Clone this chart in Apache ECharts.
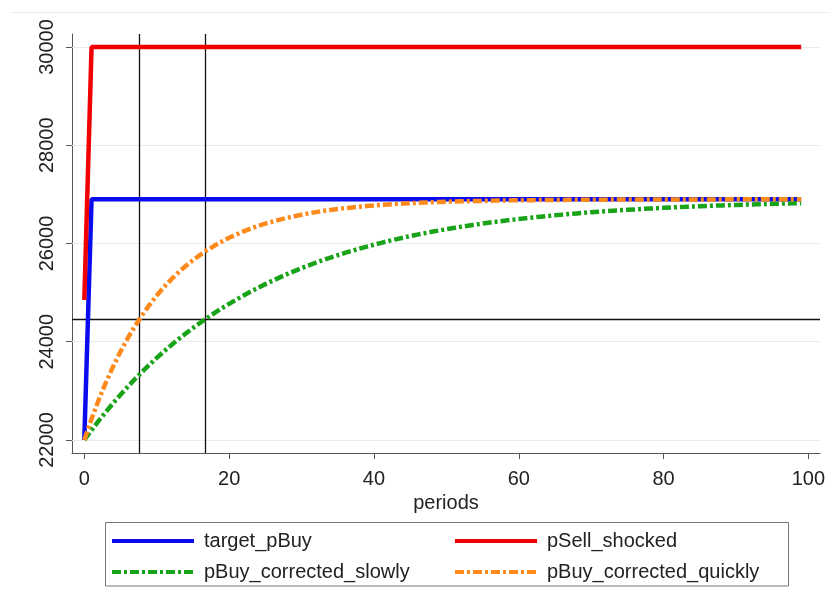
<!DOCTYPE html>
<html>
<head>
<meta charset="utf-8">
<script src="https://cdn.jsdelivr.net/npm/echarts@6/dist/echarts.min.js"></script>
<style>
  html, body { margin: 0; padding: 0; background: #fff; }
  #chart { width: 830px; height: 592px; }
</style>
</head>
<body>
<div id="chart"></div>
<script>
// time axis
const periods = [
  0, 1, 2, 3, 4, 5, 6, 7, 8, 9,
  10, 11, 12, 13, 14, 15, 16, 17, 18, 19,
  20, 21, 22, 23, 24, 25, 26, 27, 28, 29,
  30, 31, 32, 33, 34, 35, 36, 37, 38, 39,
  40, 41, 42, 43, 44, 45, 46, 47, 48, 49,
  50, 51, 52, 53, 54, 55, 56, 57, 58, 59,
  60, 61, 62, 63, 64, 65, 66, 67, 68, 69,
  70, 71, 72, 73, 74, 75, 76, 77, 78, 79,
  80, 81, 82, 83, 84, 85, 86, 87, 88, 89,
  90, 91, 92, 93, 94, 95, 96, 97, 98, 99
];

const targetPBuy = [
  22000, 26900, 26900, 26900, 26900, 26900, 26900, 26900, 26900, 26900,
  26900, 26900, 26900, 26900, 26900, 26900, 26900, 26900, 26900, 26900,
  26900, 26900, 26900, 26900, 26900, 26900, 26900, 26900, 26900, 26900,
  26900, 26900, 26900, 26900, 26900, 26900, 26900, 26900, 26900, 26900,
  26900, 26900, 26900, 26900, 26900, 26900, 26900, 26900, 26900, 26900,
  26900, 26900, 26900, 26900, 26900, 26900, 26900, 26900, 26900, 26900,
  26900, 26900, 26900, 26900, 26900, 26900, 26900, 26900, 26900, 26900,
  26900, 26900, 26900, 26900, 26900, 26900, 26900, 26900, 26900, 26900,
  26900, 26900, 26900, 26900, 26900, 26900, 26900, 26900, 26900, 26900,
  26900, 26900, 26900, 26900, 26900, 26900, 26900, 26900, 26900, 26900
];

const pSellShocked = [
  24850, 30000, 30000, 30000, 30000, 30000, 30000, 30000, 30000, 30000,
  30000, 30000, 30000, 30000, 30000, 30000, 30000, 30000, 30000, 30000,
  30000, 30000, 30000, 30000, 30000, 30000, 30000, 30000, 30000, 30000,
  30000, 30000, 30000, 30000, 30000, 30000, 30000, 30000, 30000, 30000,
  30000, 30000, 30000, 30000, 30000, 30000, 30000, 30000, 30000, 30000,
  30000, 30000, 30000, 30000, 30000, 30000, 30000, 30000, 30000, 30000,
  30000, 30000, 30000, 30000, 30000, 30000, 30000, 30000, 30000, 30000,
  30000, 30000, 30000, 30000, 30000, 30000, 30000, 30000, 30000, 30000,
  30000, 30000, 30000, 30000, 30000, 30000, 30000, 30000, 30000, 30000,
  30000, 30000, 30000, 30000, 30000, 30000, 30000, 30000, 30000, 30000
];

const pBuySlowly = [
  22000, 22200, 22392, 22576, 22753, 22922, 23085, 23241, 23390, 23534,
  23671, 23803, 23930, 24051, 24167, 24279, 24386, 24489, 24587, 24682,
  24772, 24859, 24943, 25023, 25099, 25173, 25243, 25311, 25376, 25438,
  25498, 25555, 25610, 25663, 25713, 25762, 25808, 25853, 25896, 25937,
  25976, 26014, 26050, 26085, 26118, 26150, 26181, 26210, 26238, 26265,
  26291, 26316, 26340, 26363, 26385, 26406, 26426, 26445, 26464, 26482,
  26499, 26515, 26531, 26546, 26561, 26574, 26588, 26601, 26613, 26624,
  26636, 26647, 26657, 26667, 26676, 26685, 26694, 26703, 26711, 26718,
  26726, 26733, 26740, 26746, 26753, 26759, 26764, 26770, 26775, 26780,
  26785, 26790, 26794, 26799, 26803, 26807, 26811, 26814, 26818, 26821
];

const pBuyQuickly = [
  22000, 22429, 22820, 23177, 23503, 23801, 24072, 24319, 24545, 24751,
  24940, 25111, 25268, 25411, 25541, 25660, 25769, 25868, 25958, 26040,
  26116, 26184, 26247, 26304, 26356, 26404, 26447, 26487, 26523, 26556,
  26586, 26614, 26639, 26662, 26683, 26702, 26719, 26735, 26749, 26763,
  26775, 26786, 26796, 26805, 26813, 26821, 26828, 26834, 26840, 26845,
  26850, 26854, 26858, 26862, 26865, 26868, 26871, 26874, 26876, 26878,
  26880, 26882, 26883, 26885, 26886, 26887, 26888, 26889, 26890, 26891,
  26892, 26893, 26893, 26894, 26894, 26895, 26895, 26896, 26896, 26896,
  26897, 26897, 26897, 26898, 26898, 26898, 26898, 26898, 26898, 26899,
  26899, 26899, 26899, 26899, 26899, 26899, 26899, 26899, 26899, 26900
];

// reference lines: half-way level and the two half-lives
const halfLevel = 24450;
const halfLives = [7.57, 16.64];

const xTicks = [0, 20, 40, 60, 80, 100];
const yTicks = [22000, 24000, 26000, 28000, 30000];

const font = '"Liberation Sans", Arial, sans-serif';
const textColor = '#222';
const axisColor = '#555';
const dashDot = [9, 3, 3, 3];

const pairs = (vals) => periods.map((p, i) => [p, vals[i]]);

// one legend per entry so the two columns line up like the Stata key
const legendEntry = (name, left, top) => ({
  data: [name],
  left: left,
  top: top,
  itemWidth: 82,
  itemHeight: 14,
  itemStyle: {opacity: 0, borderWidth: 0},
  lineStyle: {width: 4},
  textStyle: {fontFamily: font, fontSize: 20, color: textColor, padding: [0, 0, 0, 5]}
});

const chart = echarts.init(document.getElementById('chart'));

chart.setOption({
  animation: false,
  backgroundColor: '#fff',
  grid: {left: 72, right: 10, top: 34, bottom: 139},
  xAxis: {
    type: 'value',
    min: -1.7,
    max: 101.6,
    name: 'periods',
    nameLocation: 'middle',
    nameGap: 35,
    nameTextStyle: {fontFamily: font, fontSize: 20, color: textColor},
    axisLine: {onZero: false, lineStyle: {color: axisColor, width: 1}},
    axisTick: {customValues: xTicks, length: 6, lineStyle: {color: axisColor}},
    axisLabel: {customValues: xTicks, fontFamily: font, fontSize: 20, color: textColor, margin: 16},
    splitLine: {show: false}
  },
  yAxis: {
    type: 'value',
    min: 21735,
    max: 30265,
    axisLine: {show: true, onZero: false, lineStyle: {color: axisColor, width: 1}},
    axisTick: {show: true, customValues: yTicks, length: 6, lineStyle: {color: axisColor}},
    axisLabel: {
      customValues: yTicks, rotate: 90, fontFamily: font, fontSize: 20, color: textColor, margin: 15,
      formatter: (v) => String(v)
    },
    splitLine: {show: false}
  },
  legend: [
    legendEntry('target_pBuy', 105, 526),
    legendEntry('pSell_shocked', 448, 526),
    legendEntry('pBuy_corrected_slowly', 105, 557),
    legendEntry('pBuy_corrected_quickly', 448, 557)
  ],
  graphic: [
    {
      type: 'line',
      shape: {x1: 11, y1: 12.5, x2: 830, y2: 12.5},
      style: {stroke: '#eeeeee', lineWidth: 1}
    },
    {
      type: 'rect',
      shape: {x: 105.5, y: 522.5, width: 683, height: 63.5},
      style: {fill: 'none', stroke: '#777', lineWidth: 1}
    }
  ],
  series: [
    {
      // grid and reference lines, kept under the curves
      type: 'line',
      data: [],
      z: 1,
      silent: true,
      markLine: {
        z: 1,
        silent: true,
        symbol: ['none', 'none'],
        label: {show: false},
        data: yTicks.map(v => ({yAxis: v, lineStyle: {color: '#ececec', width: 1, type: 'solid'}}))
          .concat(halfLives.map(v => ({xAxis: v, lineStyle: {color: '#111', width: 1.3, type: 'solid'}})))
          .concat([{yAxis: halfLevel, lineStyle: {color: '#111', width: 1.3, type: 'solid'}}])
      }
    },
    {
      name: 'target_pBuy',
      type: 'line',
      data: pairs(targetPBuy),
      symbol: 'none',
      z: 2,
      itemStyle: {color: '#0b0bf0'},
      lineStyle: {color: '#0b0bf0', width: 4.5}
    },
    {
      name: 'pSell_shocked',
      type: 'line',
      data: pairs(pSellShocked),
      symbol: 'none',
      z: 2,
      itemStyle: {color: '#f00000'},
      lineStyle: {color: '#f00000', width: 4.5}
    },
    {
      name: 'pBuy_corrected_slowly',
      type: 'line',
      data: pairs(pBuySlowly),
      symbol: 'none',
      z: 3,
      itemStyle: {color: '#19a319'},
      lineStyle: {color: '#19a319', width: 4.5, type: dashDot}
    },
    {
      name: 'pBuy_corrected_quickly',
      type: 'line',
      data: pairs(pBuyQuickly),
      symbol: 'none',
      z: 3,
      itemStyle: {color: '#ff8a1c'},
      lineStyle: {color: '#ff8a1c', width: 4.5, type: dashDot}
    }
  ]
});
</script>
</body>
</html>
